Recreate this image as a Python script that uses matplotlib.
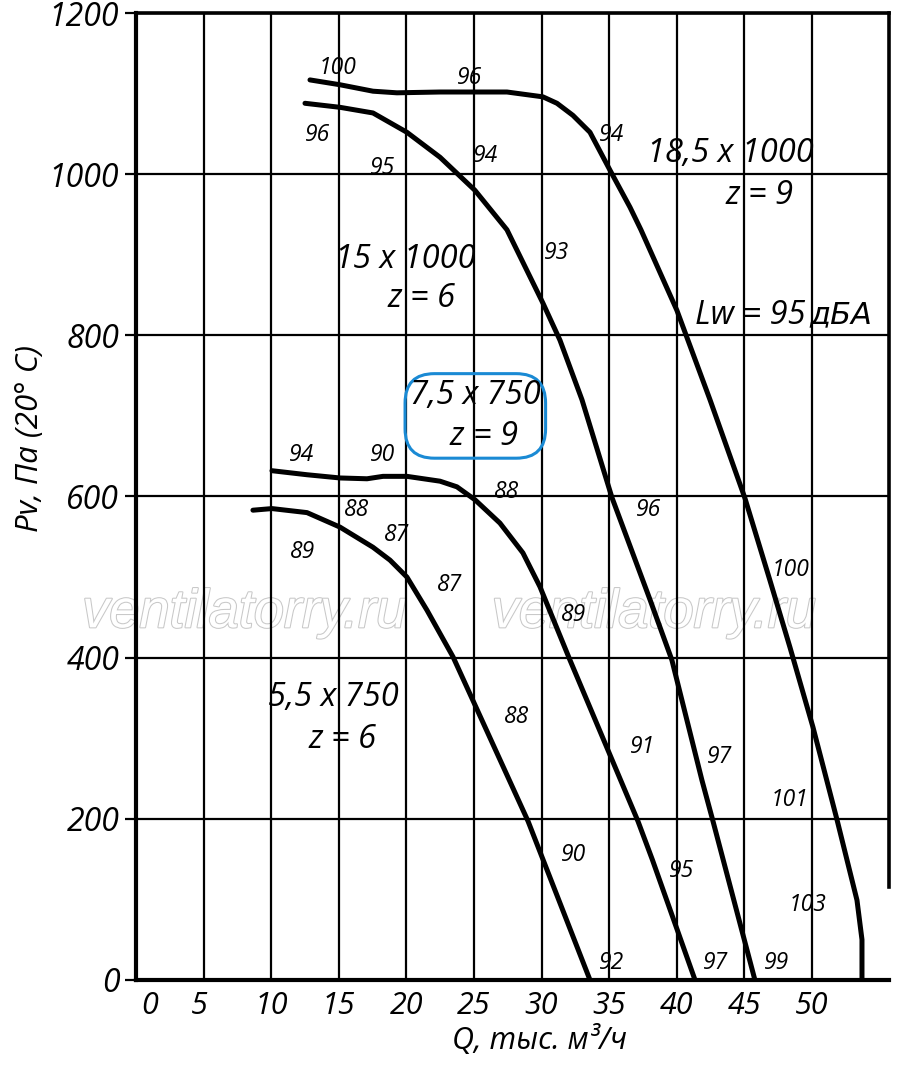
import matplotlib
matplotlib.use("Agg")
import matplotlib.pyplot as plt
import matplotlib.patheffects as pe

plt.rcParams['font.family'] = ['Open Sans', 'DejaVu Sans']
plt.rcParams['font.style'] = 'italic'

# Fan curves: Q (thousand m3/h) vs Pv (Pa)
q_185 = [12.87, 15.09, 17.53, 19.30, 22.49, 25.07, 27.44, 30.10, 31.14, 32.32, 33.58,
         35.06, 36.54, 37.35, 40.01, 42.46, 45.04, 46.89, 48.37, 50.07, 51.85, 53.33, 53.70, 53.70]
p_185 = [1117, 1111, 1103, 1101, 1102, 1102, 1102, 1096, 1088, 1073, 1052,
         1005, 959, 931, 831, 720, 598, 496, 413, 314, 199, 99, 50, 0]

q_15 = [12.50, 15.09, 17.53, 20.04, 22.49, 25.07, 27.44, 30.10, 31.36, 32.99, 35.20, 38.02,
        39.64, 41.86, 42.68, 45.78]
p_15 = [1088, 1083, 1076, 1052, 1021, 980, 931, 840, 794, 720, 599, 472,
        397, 248, 197, 0]

q_75 = [10.06, 12.65, 15.09, 17.09, 18.27, 20.04, 22.49, 23.74, 25.07, 26.92, 28.62,
        29.88, 32.10, 37.13, 38.20, 41.35]
p_75 = [632, 627, 623, 622, 625, 625, 619, 612, 596, 567, 530,
        488, 397, 197, 149, 0]

q_55 = [8.65, 10.06, 12.65, 15.09, 17.53, 18.79, 20.04, 21.52, 23.45, 29.0, 33.58]
p_55 = [583, 585, 580, 562, 537, 521, 500, 459, 401, 197, 0]

# noise level labels along the curves (dBA)
noise_q = [14.94, 24.70, 13.46, 18.27, 25.89, 35.21, 31.14, 12.28, 18.27, 16.35, 19.30,
           12.35, 27.44, 37.94, 23.22, 32.40, 48.45, 28.18, 37.50, 43.20, 48.37, 32.40,
           40.38, 49.70, 35.21, 42.90, 47.41]
noise_p = [1132, 1119, 1049, 1008, 1023, 1049, 902, 652, 652, 583, 552,
           531, 606, 583, 490, 453, 509, 326, 289, 277, 223, 155,
           135, 93, 21, 21, 21]
noise_txt = ["100", "96", "96", "95", "94", "94", "93", "94", "90", "88", "87",
             "89", "88", "96", "87", "89", "100", "88", "91", "97", "101", "90",
             "95", "103", "92", "97", "99"]

x_grid = [5, 10, 15, 20, 25, 30, 35, 40, 45, 50]
x_ticks = [1, 4.7, 10, 15, 20, 25, 30, 35, 40, 45, 50]
x_tick_labels = ["0", "5", "10", "15", "20", "25", "30", "35", "40", "45", "50"]
y_ticks = [0, 200, 400, 600, 800, 1000, 1200]

fig = plt.figure(figsize=(9, 10.69), dpi=100)
ax = fig.add_axes([0.1511, 0.0833, 0.8367, 0.9045])
ax.set_xlim(0, 55.7)
ax.set_ylim(0, 1200)

ax.set_axisbelow(True)
ax.set_xticks(x_ticks)
ax.set_xticklabels(x_tick_labels, fontsize=22)
ax.set_yticks(y_ticks)
ax.set_yticklabels([str(v) for v in y_ticks], fontsize=23)
ax.tick_params(axis='x', length=0, pad=8)
ax.tick_params(axis='y', length=8, width=1.6, pad=4, direction='out')
ax.yaxis.grid(True, color='black', lw=1.6)
for gx in x_grid:
    ax.axvline(gx, color='black', lw=1.6, zorder=0.6)

for s in ['left', 'bottom']:
    ax.spines[s].set_linewidth(3.0)
for s in ['top', 'right']:
    ax.spines[s].set_linewidth(2.6)
ax.spines['right'].set_bounds(115, 1200)

# watermark
for wq in [8.0, 38.3]:
    ax.text(wq, 455, "ventilatorry.ru", fontsize=39, color='white',
            family='Liberation Sans', style='italic', ha='center', va='center', zorder=0.4,
            path_effects=[pe.withStroke(linewidth=1.5, foreground='#c8c8c8')])

for q, p in [(q_185, p_185), (q_15, p_15), (q_75, p_75), (q_55, p_55)]:
    ax.plot(q, p, color='black', lw=3.6, solid_capstyle='round', solid_joinstyle='round', zorder=3)

for q, p, t in zip(noise_q, noise_p, noise_txt):
    ax.text(q, p, t, fontsize=16.5, ha='center', va='center', zorder=4)

big = dict(fontsize=23.5, ha='center', va='center', zorder=4)
ax.text(43.93, 1026, "18,5 x 1000", **big)
ax.text(46.15, 974, "z = 9", **big)
ax.text(19.90, 894, "15 x 1000", **big)
ax.text(21.15, 846, "z = 6", **big)
ax.text(49.5, 825, "Lw = 95", fontsize=23.5, ha='right', va='center', zorder=4)
ax.text(49.85, 825, "дБА", fontsize=22, family='DejaVu Sans', style='oblique',
        ha='left', va='center', zorder=4)
ax.text(25.1, 700, "7,5 x 750\n  z = 9", fontsize=23.5, ha='center', va='center',
        linespacing=1.35, zorder=4,
        bbox=dict(boxstyle='round,pad=0.15,rounding_size=0.9', fc='none', ec='#1a8ad4', lw=2.2))
ax.text(14.57, 350, "5,5 x 750", **big)
ax.text(15.31, 298, "z = 6", **big)

ax.set_xlabel("Q, тыс. м³/ч", fontsize=22)
ax.xaxis.set_label_coords(0.536, -0.047)
ax.set_ylabel("Pv, Па (20° C)", fontsize=22.5)
ax.yaxis.set_label_coords(-0.121, 0.56)

fig.savefig("out.png", dpi=100)
